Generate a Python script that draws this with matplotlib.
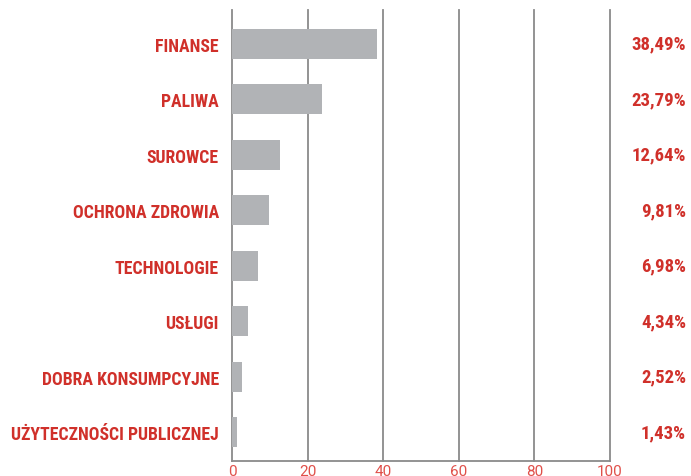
import matplotlib.pyplot as plt
import matplotlib.transforms as mtransforms

categories = ["FINANSE", "PALIWA", "SUROWCE", "OCHRONA ZDROWIA", "TECHNOLOGIE",
              "USŁUGI", "DOBRA KONSUMPCYJNE", "UŻYTECZNOŚCI PUBLICZNEJ"]
values = [38.49, 23.79, 12.64, 9.81, 6.98, 4.34, 2.52, 1.43]
value_labels = ["38,49%", "23,79%", "12,64%", "9,81%", "6,98%", "4,34%", "2,52%", "1,43%"]
xticks = [0, 20, 40, 60, 80, 100]

red = "#d0302a"
grey_bar = "#b1b3b6"
grid = "#8a8a8a"
font = ["Roboto Condensed", "DejaVu Sans"]

fig = plt.figure(figsize=(6.91, 4.77), dpi=100)
ax = fig.add_axes([232 / 691, 15 / 477, 378 / 691, 451 / 477])

pos = list(range(len(categories)))
ax.barh(pos, values, height=0.54, color=grey_bar, zorder=3)
ax.set_xlim(0, 100)
ax.set_ylim(7.52, -0.61)

for x in xticks[1:]:
    ax.axvline(x, color=grid, linewidth=1.3, zorder=1, clip_on=False)

for s in ["top", "right"]:
    ax.spines[s].set_visible(False)
ax.spines["left"].set_color(grid)
ax.spines["left"].set_linewidth(1.3)
ax.spines["bottom"].set_color(grid)
ax.spines["bottom"].set_linewidth(1.3)

ax.set_xticks(xticks)
ax.set_xticklabels([str(x) for x in xticks], color="#e0504a", fontsize=11,
                   family=["Roboto", "DejaVu Sans"])
ax.tick_params(axis="x", length=0, pad=2)
ax.set_yticks(pos)
ax.set_yticklabels(categories, color=red, fontsize=12.8, fontweight="bold", family=font)
ax.tick_params(axis="y", length=0, pad=9.5)

trans = mtransforms.blended_transform_factory(fig.transFigure, ax.transData)
for p, lab in zip(pos, value_labels):
    ax.text(686 / 691, p, lab, transform=trans, ha="right", va="center",
            color=red, fontsize=13.5, fontweight="bold", family=font)

fig.savefig("out.png", dpi=100)
